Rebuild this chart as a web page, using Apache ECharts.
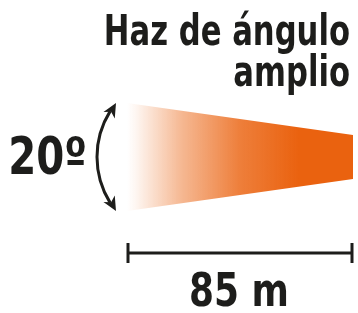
<!DOCTYPE html>
<html lang="es">
<head>
<meta charset="UTF-8">
<title>Haz de ángulo amplio</title>
<script src="https://cdn.jsdelivr.net/npm/echarts@6/dist/echarts.min.js"></script>
<style>
    html, body { margin: 0; padding: 0; background: #fff; }
    #main { width: 358px; height: 313px; }
</style>
</head>
<body>
<div id="main"></div>
<script type="text/javascript">
    // datos
    var titleLines = ['Haz de ángulo', 'amplio'];
    var beamAngle = 20;            // grados
    var beamDistance = [0, 85];    // m
    var beamHalfWidth = [54, 22];  // semiancho relativo del haz
    var angleLabel = beamAngle + 'º';
    var distanceLabel = beamDistance[1] + ' m';

    var orange = '#ea620f';
    var ink = '#1d1d1b';
    var font = '"DejaVu Sans", sans-serif';

    var chart = echarts.init(document.getElementById('main'));

    // haz con degradado
    function renderBeam(params, api) {
        var x0 = api.value(0), x1 = api.value(1), h0 = api.value(2), h1 = api.value(3);
        var pts = [api.coord([x0, h0]), api.coord([x1, h1]), api.coord([x1, -h1]), api.coord([x0, -h0])];
        return {
            type: 'polygon',
            shape: {points: pts},
            style: {
                fill: new echarts.graphic.LinearGradient(0, 0, 1, 0, [
                    {offset: 0, color: 'rgba(234,98,15,0)'},
                    {offset: 0.04, color: 'rgba(234,98,15,0.06)'},
                    {offset: 0.24, color: 'rgba(234,98,15,0.45)'},
                    {offset: 0.5, color: 'rgba(234,98,15,0.82)'},
                    {offset: 0.76, color: 'rgba(234,98,15,1)'},
                    {offset: 1, color: orange}
                ])
            }
        };
    }

    // flecha curva del ángulo
    function renderAngle(params, api) {
        var top = api.coord([api.value(0), api.value(1)]);
        var bot = api.coord([api.value(0), -api.value(1)]);
        var ex = top[0] - 11;
        var y0 = top[1], y1 = bot[1];
        var half = (y1 - y0) / 2, sag = 19;
        var r = (half * half + sag * sag) / (2 * sag);
        var cx = ex - sag + r, cy = (y0 + y1) / 2;
        var a = Math.asin(half / r);
        var aTop = Math.PI + a, aBot = Math.PI - a;
        var headLen = 14, cut = (headLen - 4) / r;

        function head(ang, dir) {
            var px = cx + r * Math.cos(ang), py = cy + r * Math.sin(ang);
            // tangente en la base de la punta
            var bAng = ang - dir * (headLen / r);
            var tx = -Math.sin(bAng) * dir, ty = Math.cos(bAng) * dir;
            var nx = -ty, ny = tx;
            var bx = px - tx * headLen, by = py - ty * headLen;
            return {
                type: 'polygon',
                shape: {points: [
                    [px, py],
                    [bx + nx * 6.5, by + ny * 6.5],
                    [bx + tx * 4, by + ty * 4],
                    [bx - nx * 6.5, by - ny * 6.5]
                ]},
                style: {fill: ink}
            };
        }

        return {
            type: 'group',
            children: [
                {
                    type: 'arc',
                    shape: {cx: cx, cy: cy, r: r, startAngle: aBot + cut, endAngle: aTop - cut, clockwise: true},
                    style: {stroke: ink, lineWidth: 3, fill: null}
                },
                head(aTop, 1),
                head(aBot, -1),
                {
                    type: 'text',
                    x: cx - r - 10,
                    y: cy + 4,
                    scaleX: 0.79,
                    style: {
                        text: angleLabel, fill: ink, font: 'bold 51px ' + font,
                        align: 'right', verticalAlign: 'middle'
                    }
                }
            ]
        };
    }

    // cota de distancia
    function renderScale(params, api) {
        var a = api.coord([api.value(0), 0]);
        var b = api.coord([api.value(1), 0]);
        var y = api.coord([0, -beamHalfWidth[0]])[1] + 42;
        var s = {stroke: ink, lineWidth: 3};
        return {
            type: 'group',
            children: [
                {type: 'line', shape: {x1: a[0] + 1, y1: y, x2: b[0] - 1, y2: y}, style: s},
                {type: 'line', shape: {x1: a[0] + 1, y1: y - 10, x2: a[0] + 1, y2: y + 10}, style: s},
                {type: 'line', shape: {x1: b[0] - 1, y1: y - 10, x2: b[0] - 1, y2: y + 10}, style: s},
                {
                    type: 'text',
                    x: (a[0] + b[0]) / 2 - 1,
                    y: y + 41,
                    scaleX: 0.78,
                    style: {
                        text: distanceLabel, fill: ink, font: 'bold 46px ' + font,
                        align: 'center', verticalAlign: 'middle'
                    }
                }
            ]
        };
    }

    var option = {
        animation: false,
        grid: {left: 127, right: 5, top: 103, bottom: 102},
        xAxis: {type: 'value', min: beamDistance[0], max: beamDistance[1], show: false},
        yAxis: {type: 'value', min: -beamHalfWidth[0], max: beamHalfWidth[0], show: false},
        graphic: titleLines.map(function (t, i) {
            return {
                type: 'text',
                x: 350,
                y: 34 + i * 41,
                scaleX: 0.73,
                style: {
                    text: t, fill: ink, font: 'bold 42px ' + font,
                    align: 'right', verticalAlign: 'middle'
                }
            };
        }),
        series: [
            {type: 'custom', renderItem: renderBeam, clip: false,
             data: [[beamDistance[0], beamDistance[1], beamHalfWidth[0], beamHalfWidth[1]]]},
            {type: 'custom', renderItem: renderAngle, clip: false,
             data: [[beamDistance[0], beamHalfWidth[0]]]},
            {type: 'custom', renderItem: renderScale, clip: false,
             data: [[beamDistance[0], beamDistance[1]]]}
        ]
    };

    chart.setOption(option);
</script>
</body>
</html>
